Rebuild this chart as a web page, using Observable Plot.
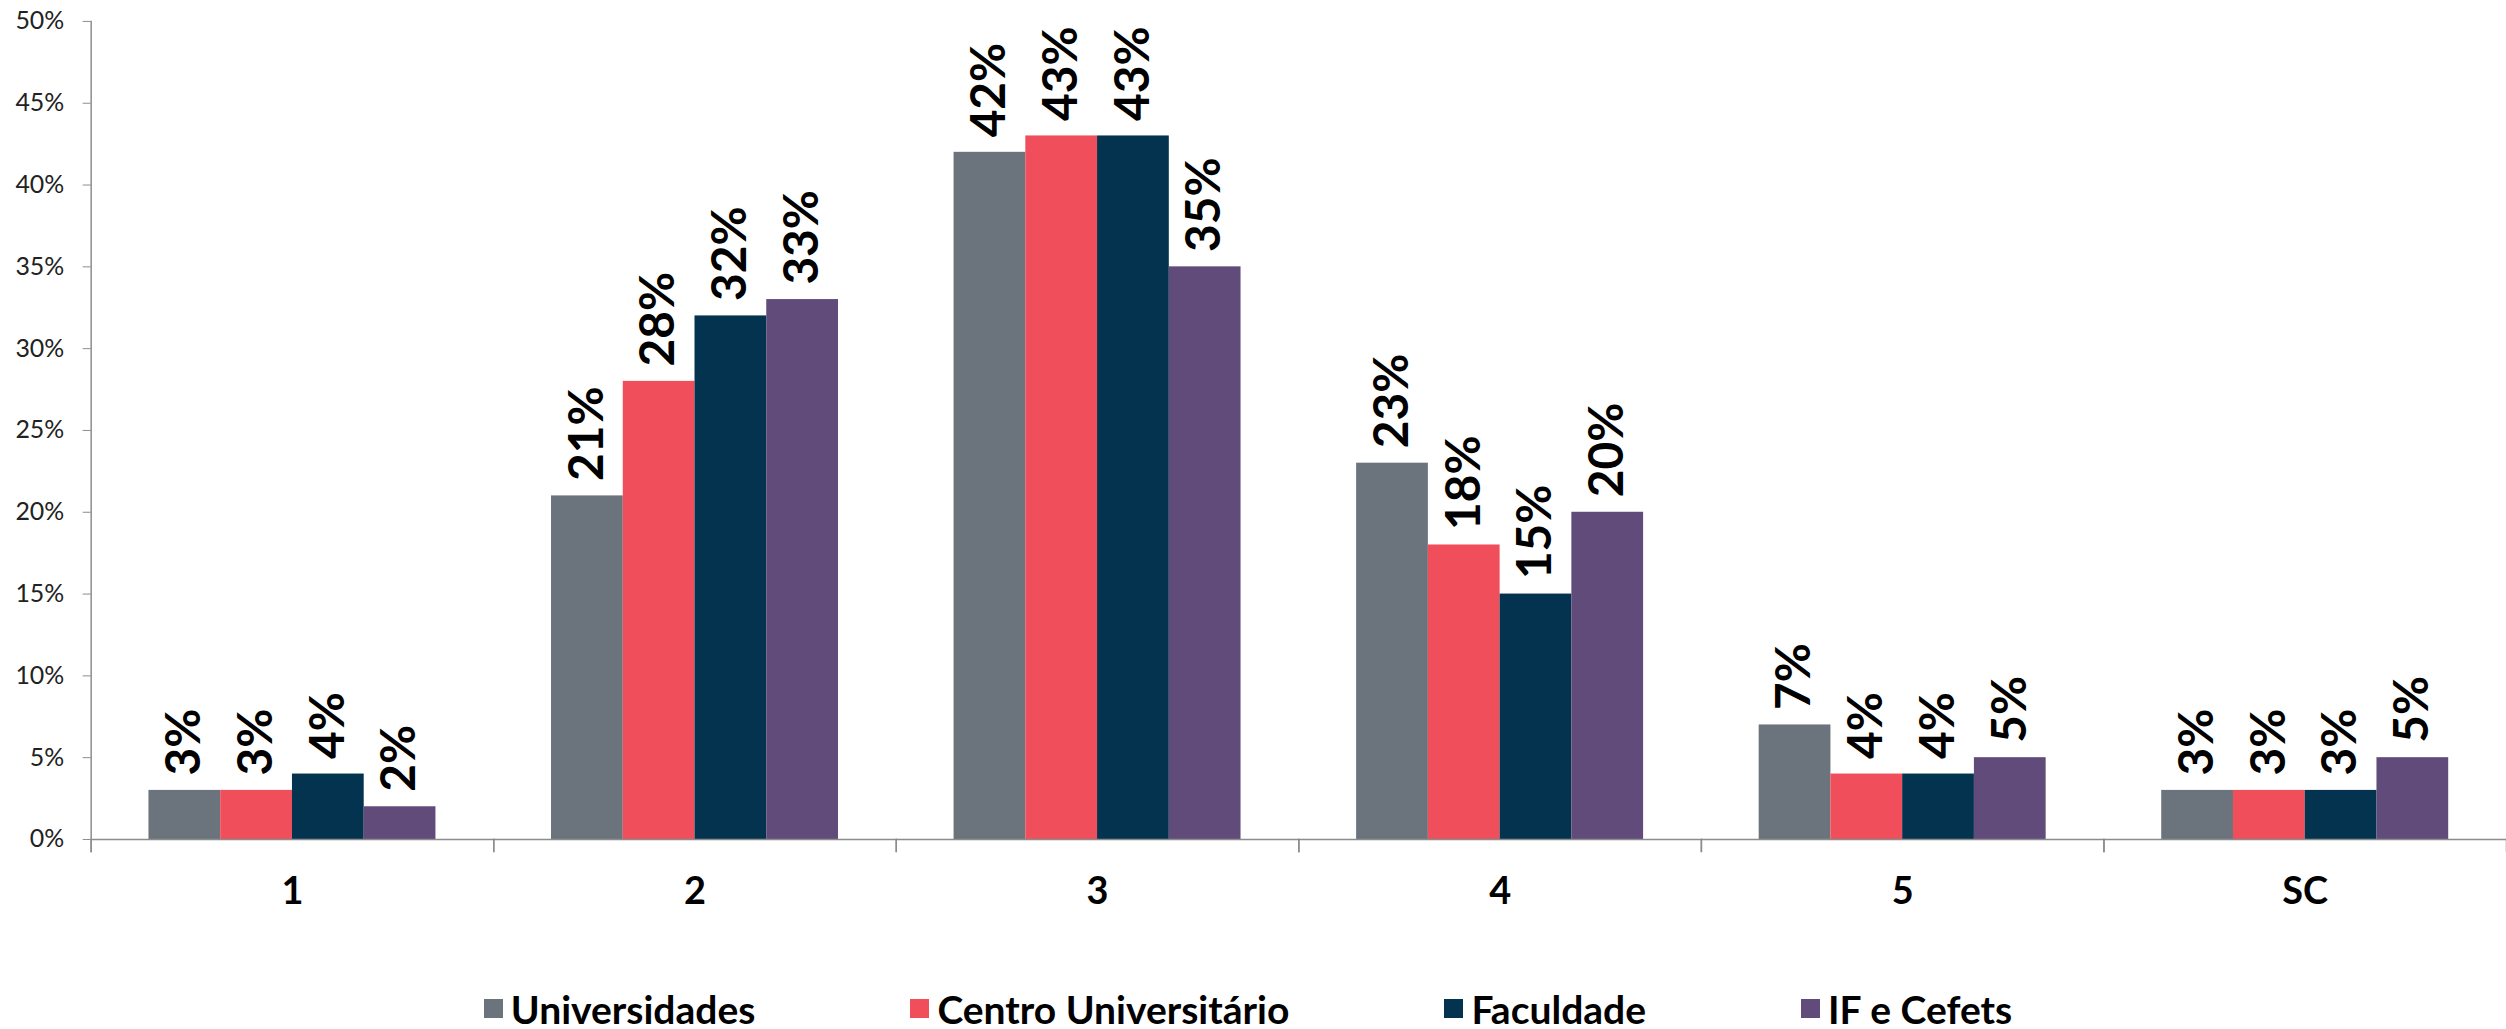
<!DOCTYPE html>
<html lang="pt">
<head>
<meta charset="utf-8">
<script src="https://cdn.jsdelivr.net/npm/d3@7"></script>
<script src="https://cdn.jsdelivr.net/npm/@observablehq/plot@0.6"></script>
<style>
  html, body { margin: 0; padding: 0; background: #fff; overflow: hidden; }
  #chart { width: 2506px; overflow: hidden; }
  .legend {
    width: 2506px; box-sizing: border-box; padding-right: 10px;
    display: flex; justify-content: center; align-items: center;
    gap: 155px; margin-top: 32px; height: 40px;
    font-family: Lato, "DejaVu Sans", sans-serif; font-weight: bold; font-size: 39px; color: #000;
  }
  .legend .item { display: flex; align-items: center; gap: 8px; }
  .legend .swatch { width: 19px; height: 19px; display: inline-block; }
</style>
</head>
<body>
<div id="chart"></div>
<script>
// Categories on the horizontal axis
const categories = ["1", "2", "3", "4", "5", "SC"];

// Institution types (legend order)
const series = ["Universidades", "Centro Universitário", "Faculdade", "IF e Cefets"];

// Share per category for each institution type
const universidades       = [0.03, 0.21, 0.42, 0.23, 0.07, 0.03];
const centroUniversitario = [0.03, 0.28, 0.43, 0.18, 0.04, 0.03];
const faculdade           = [0.04, 0.32, 0.43, 0.15, 0.04, 0.03];
const ifCefets            = [0.02, 0.33, 0.35, 0.20, 0.05, 0.05];

// Y axis tick values
const yTicks = [0, 0.05, 0.10, 0.15, 0.20, 0.25, 0.30, 0.35, 0.40, 0.45, 0.50];

const colors = ["#6b737d", "#ef4e5a", "#03334e", "#614b7b"];

const values = [universidades, centroUniversitario, faculdade, ifCefets];
const data = categories.flatMap((category, i) =>
  series.map((s, j) => ({category, series: s, value: values[j][i]}))
);

const pct = d3.format(".0%");
// the plot runs slightly past the right edge of the page, so the last group is cut off
const width = 2515, height = 960;
const marginTop = 21, marginBottom = 118, marginLeft = 91, marginRight = 0;
const plotHeight = height - marginTop - marginBottom;
const axisGray = "#8c8c8c";

const chart = Plot.plot({
  width, height, marginTop, marginBottom, marginLeft, marginRight,
  style: {fontFamily: "Lato, 'DejaVu Sans', sans-serif", color: "#222", background: "#fff"},
  fx: {domain: categories, padding: 0, label: null},
  x: {domain: series, paddingInner: 0, paddingOuter: 0.77, axis: null},
  y: {domain: [0, 0.5], label: null},
  color: {domain: series, range: colors},
  marks: [
    Plot.barY(data, {fx: "category", x: "series", y: "value", fill: "series"}),
    Plot.text(data, {
      fx: "category", x: "series", y: "value",
      text: d => pct(d.value),
      rotate: -90, textAnchor: "start", lineAnchor: "middle", dy: -15,
      fontSize: 48, fontWeight: "bold", fill: "#000"
    }),
    Plot.ruleY([0], {stroke: axisGray, strokeWidth: 1.5}),
    // vertical axis line on the first panel, extending below the baseline
    Plot.frame({anchor: "left", facetAnchor: "left", stroke: axisGray, strokeWidth: 1.5, insetBottom: -12}),
    // short separator ticks between the category groups
    Plot.frame({anchor: "left", stroke: axisGray, strokeWidth: 1.5, insetTop: plotHeight, insetBottom: -12}),
    Plot.frame({anchor: "right", stroke: axisGray, strokeWidth: 1.5, insetTop: plotHeight, insetBottom: -12}),
    Plot.axisY({
      ticks: yTicks, tickFormat: pct, tickSize: 8, tickPadding: 19,
      fontSize: 25, stroke: axisGray, fill: "#222", label: null
    }),
    Plot.axisFx({
      anchor: "bottom", tickSize: 0, tickPadding: 38,
      fontSize: 38, fontWeight: "bold", fill: "#000", label: null
    })
  ]
});

document.getElementById("chart").append(chart);

// Legend below the chart
const legend = document.createElement("div");
legend.className = "legend";
series.forEach((s, i) => {
  const item = document.createElement("div");
  item.className = "item";
  const sw = document.createElement("span");
  sw.className = "swatch";
  sw.style.background = colors[i];
  const label = document.createElement("span");
  label.textContent = s;
  item.append(sw, label);
  legend.append(item);
});
document.body.append(legend);
</script>
</body>
</html>
